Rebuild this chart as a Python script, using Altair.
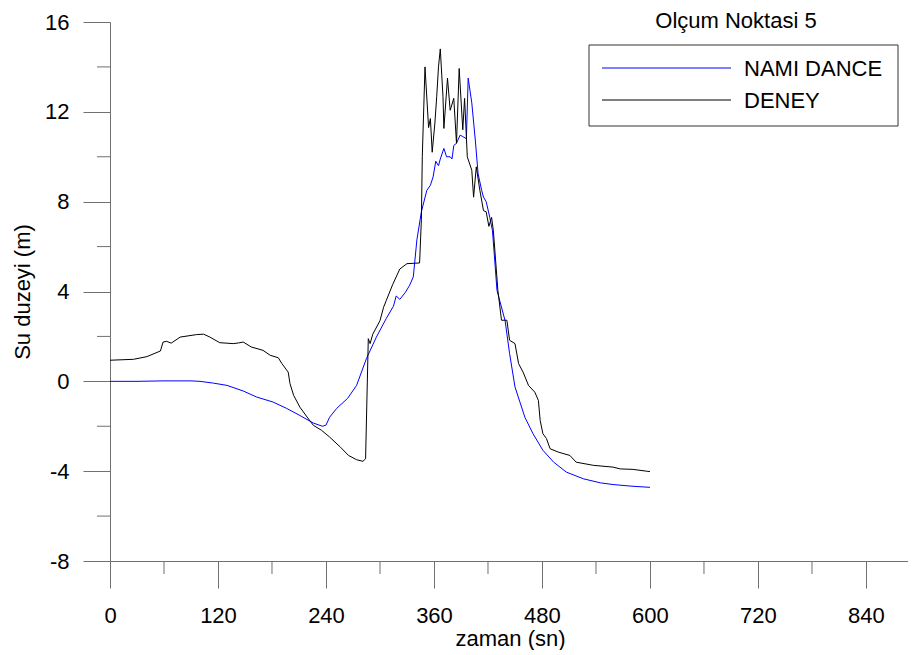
import altair as alt
import pandas as pd

# ---------------- data ----------------
series_names = ["NAMI DANCE", "DENEY"]
series_colors = ["#0000ff", "#000000"]

nami_t = [0, 30, 60, 90, 100, 115, 130, 148, 163, 181, 196, 211, 226, 236, 240,
          244, 252, 264, 274, 285, 296, 307, 315, 318, 322, 328, 333, 337, 341, 346,
          352, 356, 359, 362, 365, 367, 371, 374, 378, 380, 382, 385, 389, 392, 396,
          398, 402, 406, 409, 413, 415, 418, 422, 425, 430, 439, 444, 450, 461, 470,
          481, 493, 507, 526, 545, 560, 580, 600]
nami_v = [0, 0, 0.02, 0.02, 0, -0.08, -0.18, -0.43, -0.7, -0.92, -1.2, -1.52, -1.86, -2.0, -1.95,
          -1.6, -1.2, -0.76, -0.18, 1.02, 1.97, 2.8, 3.35, 3.8, 3.65, 3.95, 4.28, 4.65, 6.3, 7.55,
          8.5, 8.73, 9.1, 9.8, 9.6, 9.9, 10.37, 10.0, 10.0, 9.9, 10.5, 10.6, 10.96, 10.9, 10.8,
          13.5, 12.4, 10.7, 9.25, 8.5, 8.2, 8.0, 7.3, 6.7, 4.05, 2.7, 1.24, -0.25, -1.6, -2.33,
          -3.07, -3.6, -4.04, -4.34, -4.52, -4.6, -4.67, -4.72]

deney_t = [0, 26, 41, 56, 59, 63, 68, 78, 96, 104, 111, 122, 137, 143, 148,
           157, 170, 178, 187, 191, 198, 200, 204, 211, 219, 226, 235, 244, 256, 265,
           274, 281, 284, 287, 289, 292, 300, 304, 307, 314, 322, 330, 344, 346, 347,
           350, 354, 356, 358, 361, 363, 365, 367, 370, 371, 375, 378, 382, 385, 388,
           392, 394, 397, 402, 404, 407, 411, 415, 418, 421, 424, 426, 431, 435, 441,
           444, 450, 454, 459, 465, 472, 476, 478, 481, 485, 489, 498, 511, 518, 537,
           559, 567, 581, 596, 600]
deney_v = [0.94, 0.98, 1.1, 1.35, 1.75, 1.78, 1.7, 1.97, 2.08, 2.1, 1.97, 1.72, 1.68, 1.71, 1.75,
           1.53, 1.38, 1.16, 1.05, 0.79, 0.41, -0.1, -0.62, -1.15, -1.59, -1.96, -2.18, -2.48, -2.93, -3.3,
           -3.49, -3.56, -3.45, 1.9, 1.68, 2.1, 2.7, 3.3, 3.6, 4.3, 5.0, 5.24, 5.27, 7.2, 10.0,
           14.0, 11.3, 11.7, 10.2, 11.5, 12.67, 14.0, 14.8, 12.67, 11.26, 13.5, 12.07, 12.6, 10.6, 13.93,
           11.2, 12.6, 10.0, 9.4, 8.2, 9.55, 8.5, 7.6, 7.55, 6.9, 7.3, 6.7, 4.05, 2.72, 2.72,
           1.83, 1.68, 0.79, 0.41, -0.18, -0.48, -0.85, -1.74, -2.33, -2.55, -3.0, -3.15, -3.3, -3.6, -3.74,
           -3.82, -3.9, -3.92, -4.0, -4.02]

x_major = [0, 120, 240, 360, 480, 600, 720, 840]
x_minor = [60, 180, 300, 420, 540, 660, 780]
y_major = [-8, -4, 0, 4, 8, 12, 16]
y_minor = [-6, -2, 2, 6, 10, 14]

chart_title = "Olçum Noktasi 5"
x_title = "zaman (sn)"
y_title = "Su duzeyi (m)"

# ---------------- layout / style ----------------
W, H = 798, 539
X_MAX = 886.7
FONT = "Liberation Sans"
FS = 22
GRAY = "#707070"

df = pd.concat([
    pd.DataFrame({"t": nami_t, "v": nami_v, "series": series_names[0]}),
    pd.DataFrame({"t": deney_t, "v": deney_v, "series": series_names[1]}),
])

xscale = alt.Scale(domain=[0, X_MAX], nice=False, zero=False)
yscale = alt.Scale(domain=[-8, 16], nice=False, zero=False)

x_axis = alt.Axis(values=x_major, title=x_title, tickSize=27, labelPadding=34,
                  labelBaseline="alphabetic", labelFlush=False, labelOverlap=False,
                  labelExpr="'' + datum.value",
                  titleX=400, titleY=84, titleAlign="center", titleBaseline="alphabetic")
y_axis = alt.Axis(values=y_major, title=y_title, tickSize=27, labelPadding=14,
                  labelAlign="right", labelBaseline="middle", labelFlush=False,
                  labelOverlap=False, labelExpr="'' + datum.value",
                  titleX=-88, titleY=H / 2, titleAngle=270,
                  titleAlign="center", titleBaseline="middle")

lines = alt.Chart(df).mark_line(strokeWidth=1).encode(
    x=alt.X("t:Q", scale=xscale, axis=x_axis),
    y=alt.Y("v:Q", scale=yscale, axis=y_axis),
    color=alt.Color("series:N", scale=alt.Scale(domain=series_names, range=series_colors),
                    legend=None),
)

xminor = alt.Chart(pd.DataFrame({"t": x_minor})).mark_rule(color=GRAY, strokeWidth=1).encode(
    x=alt.X("t:Q", scale=xscale, axis=x_axis),
    y=alt.value(H), y2=alt.value(H + 13),
)
yminor = alt.Chart(pd.DataFrame({"v": y_minor})).mark_rule(color=GRAY, strokeWidth=1).encode(
    y=alt.Y("v:Q", scale=yscale, axis=y_axis),
    x=alt.value(-13), x2=alt.value(0),
)

one = pd.DataFrame({"a": [0]})
box = alt.Chart(one).mark_rect(fillOpacity=0, stroke="#333333", strokeWidth=1).encode(
    x=alt.value(479), x2=alt.value(788), y=alt.value(23), y2=alt.value(104),
)

legend_layers = []
for i, (name, col) in enumerate(zip(series_names, series_colors)):
    yy = 46 + 32 * i
    legend_layers.append(
        alt.Chart(one).mark_rule(color=col, strokeWidth=1).encode(
            x=alt.value(492), x2=alt.value(621), y=alt.value(yy))
    )
    legend_layers.append(
        alt.Chart(one).mark_text(text=name, font=FONT, fontSize=FS, align="left",
                                 baseline="alphabetic", color="black").encode(
            x=alt.value(634), y=alt.value(yy + 8))
    )

title = alt.Chart(one).mark_text(text=chart_title, font=FONT, fontSize=FS, align="center",
                                 baseline="alphabetic", color="black").encode(
    x=alt.value(626), y=alt.value(6),
)

chart = alt.layer(lines, xminor, yminor, box, *legend_layers, title).properties(
    width=W, height=H,
    padding={"left": 102, "top": 14, "right": 0, "bottom": 89},
    autosize=alt.AutoSizeParams(type="none"),
    background="white",
).configure_view(stroke=None).configure_axis(
    grid=False, domainColor=GRAY, tickColor=GRAY, domainWidth=1, tickWidth=1,
    labelFont=FONT, labelFontSize=FS, labelColor="black",
    titleFont=FONT, titleFontSize=FS, titleFontWeight="normal", titleColor="black",
)

chart.save("out.html", embed_options={"renderer": "svg", "actions": False})
